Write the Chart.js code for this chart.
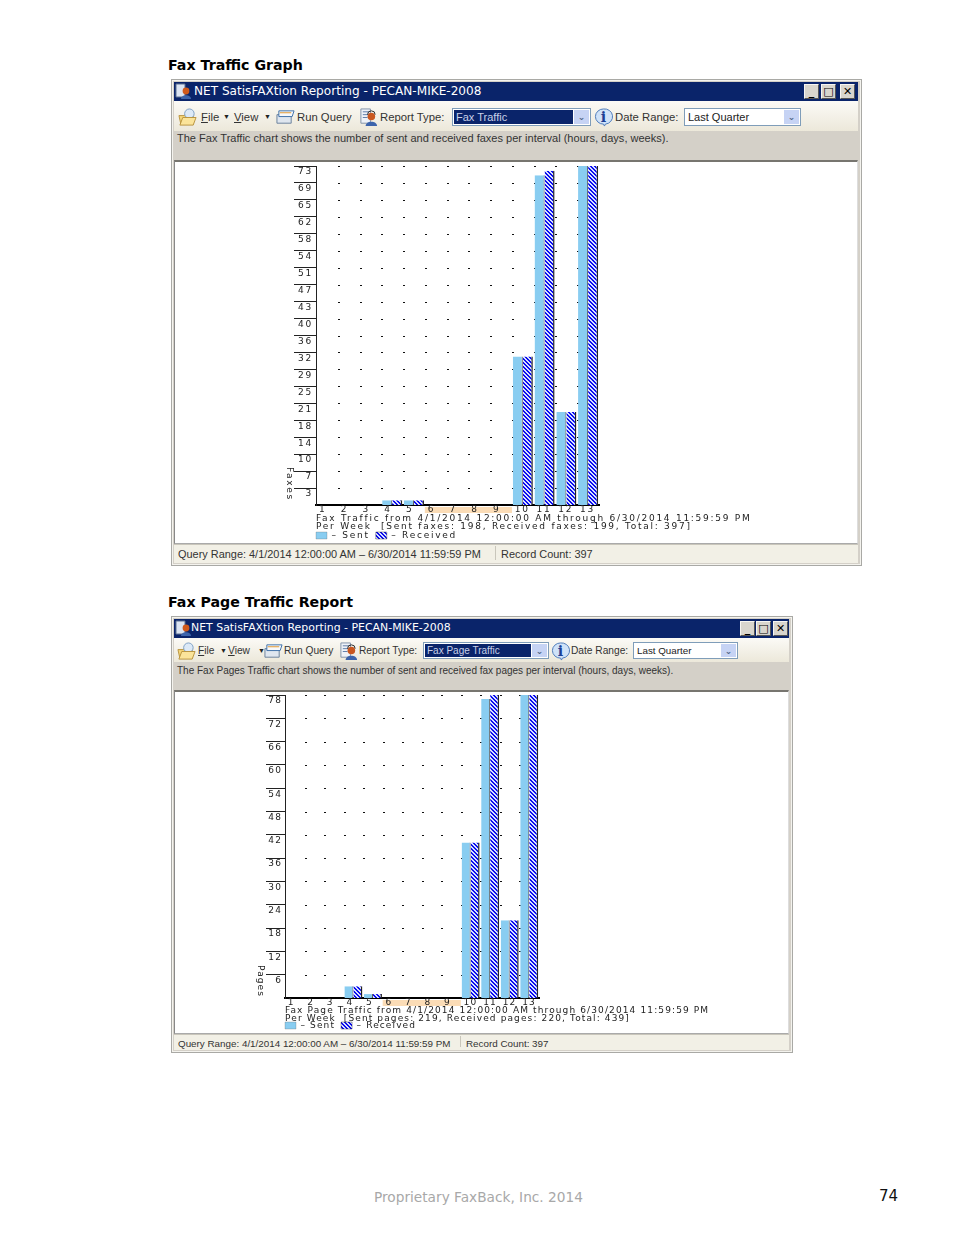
<!DOCTYPE html>
<html>
<head>
<meta charset="utf-8">
<title>Fax Traffic Graph</title>
<script src="https://cdn.jsdelivr.net/npm/chart.js@4"></script>
<style>
  html, body { margin: 0; padding: 0; background: #fff; }
  body { position: relative; width: 954px; height: 1235px; overflow: hidden; font-family: "Liberation Sans", sans-serif; }
  .abs, canvas { position: absolute; }
  .t { position: absolute; white-space: nowrap; line-height: 14px; color: #333; font-size: 11.5px; }
  .heading { position: absolute; left: 168px; font: bold 14.2px "DejaVu Sans", sans-serif; color: #000; white-space: nowrap; }
  .win { position: absolute; box-sizing: border-box; background: #d4d0c8; border: 1px solid #a9a9a5; box-shadow: inset 0 0 0 1px #f4f3ee; }
  .bar { position: absolute; background: #0a246a; }
  .btitle { position: absolute; color: #fff; white-space: nowrap; font-family: "DejaVu Sans", sans-serif; }
  .tool { position: absolute; background: linear-gradient(#fbfaf6, #ece8da); }
  .panel { position: absolute; background: #fff; border-top: 2px solid #77756f; border-left: 1px solid #888; border-right: 1px solid #ddd; border-bottom: 1px solid #aaa; box-sizing: border-box; }
  .status { position: absolute; background: #f2f0e6; border-top: 1px solid #c9c6bb; box-sizing: border-box; }
  .wbtn { position: absolute; background: #d8d5cd; border: 1px solid #f6f5f1; border-right-color: #555; border-bottom-color: #555; box-sizing: border-box; color: #000; font: bold 11px/13px "DejaVu Sans", sans-serif; text-align: center; }
  .sel { position: absolute; background: #fff; border: 1px solid #7f9db9; box-sizing: border-box; }
  .sel .cur { position: absolute; left: 1px; top: 1px; bottom: 1px; background: #0a246a; color: #c8d0e8; line-height: 14px; padding-left: 2px; }
  .sel .val { position: absolute; left: 3px; top: 1px; line-height: 14px; color: #222; }
  .sel .drop { position: absolute; top: 1px; bottom: 1px; right: 1px; width: 15px; background: #c6d3f4; color: #4d6185; font: bold 9px/14px "DejaVu Sans", sans-serif; text-align: center; }
  #foot { position: absolute; left: 374px; top: 1189px; font: 13.7px "DejaVu Sans", sans-serif; color: #a8a8a8; white-space: nowrap; }
  #pageno { position: absolute; left: 879px; top: 1187px; font: 15px "DejaVu Sans", sans-serif; color: #111; }
</style>
</head>
<body>
<svg width="0" height="0" style="position:absolute">
  <symbol id="i-folder" viewBox="0 0 20 20"><path d="M1 8h6l1-2h8v11H3z" fill="#f5d77a" stroke="#b8923c"/><circle cx="12" cy="6" r="5" fill="#dce9f7" stroke="#7d9fc4"/><path d="M2 18l3-8h14l-3 8z" fill="#fbe49a" stroke="#b8923c"/></symbol>
  <symbol id="i-run" viewBox="0 0 20 20"><path d="M1 7h15v9H1z" fill="#dfe6ef" stroke="#68809b"/><path d="M3 3h16l-2 6H3z" fill="#f7f9fc" stroke="#3c6ea8"/><path d="M4 5h12" stroke="#e0962c"/></symbol>
  <symbol id="i-report" viewBox="0 0 20 20"><path d="M2 1h10v15H2z" fill="#eef2f8" stroke="#8090a8"/><path d="M4 4h6M4 7h6M4 10h5" stroke="#5c7aa6"/><circle cx="13" cy="9" r="4" fill="#c9571f"/><path d="M7 19c0-6 12-6 12 0z" fill="#3c64ac"/><path d="M9 7a4 4 0 0 1 8 0" fill="none" stroke="#222"/></symbol>
  <symbol id="i-info" viewBox="0 0 20 20"><path d="M10 1a8.5 8 0 1 0 0 16l1 2 1-2a8.5 8 0 0 0-2-16z" fill="#cfe2f8" stroke="#4a78b8"/><text x="10" y="15" font-family="DejaVu Serif" font-weight="bold" font-size="15" text-anchor="middle" fill="#1c3f94">i</text></symbol>
  <symbol id="i-app" viewBox="0 0 16 16"><path d="M1 1h9v13H1z" fill="#dbe4f2" stroke="#5a6f90"/><circle cx="11" cy="8" r="3.4" fill="#d05a1c"/><path d="M6 16c0-5 10-5 10 0z" fill="#3c64ac"/></symbol>
</svg>

<div class="heading" style="top:57px">Fax Traffic Graph</div>
<div id="win1"></div>
<div class="heading" style="top:594px">Fax Page Traffic Report</div>
<div id="win2"></div>
<div id="foot">Proprietary FaxBack, Inc. 2014</div>
<div id="pageno">74</div>

<script>
// Weeks on the x axis, same for both charts
const weeks = ["1", "2", "3", "4", "5", "6", "7", "8", "9", "10", "11", "12", "13"];
const shadedWeeks = ["6", "7", "8", "9"];

// Fax Traffic Graph
const sentFaxes = [0, 0, 0, 1, 1, 0, 0, 0, 0, 32, 71, 20, 73];
const receivedFaxes = [0, 0, 0, 1, 1, 0, 0, 0, 0, 32, 72, 20, 73];
const faxTicks = [3.65, 7.3, 10.95, 14.6, 18.25, 21.9, 25.55, 29.2, 32.85, 36.5, 40.15, 43.8, 47.45, 51.1, 54.75, 58.4, 62.05, 65.7, 69.35, 73];
const faxTickLabels = ["3", "7", "10", "14", "18", "21", "25", "29", "32", "36", "40", "43", "47", "51", "54", "58", "62", "65", "69", "73"];

// Fax Page Traffic Report
const sentPages = [0, 0, 0, 3, 1, 0, 0, 0, 0, 40, 77, 20, 78];
const receivedPages = [0, 0, 0, 3, 1, 0, 0, 0, 0, 40, 78, 20, 78];
const pageTicks = [6, 12, 18, 24, 30, 36, 42, 48, 54, 60, 66, 72, 78];
const pageTickLabels = ["6", "12", "18", "24", "30", "36", "42", "48", "54", "60", "66", "72", "78"];

// diagonal hatch used for the received bars
function hatch() {
  const c = document.createElement("canvas");
  c.width = 4; c.height = 4;
  const g = c.getContext("2d");
  g.fillStyle = "#0c0cf0";
  g.fillRect(0, 0, 4, 4);
  g.fillStyle = "#d8e2ff";
  for (let i = 0; i < 4; i++) {
    g.fillRect(i, i, 1, 1);
    g.fillRect((i + 1) % 4, i, 1, 1);
  }
  return g.createPattern(c, "repeat");
}

// dots at the grid crossings, orange band under the week labels, caption lines, vertical axis name
const extras = {
  id: "extras",
  beforeUpdate(chart) {
    chart.ctx.letterSpacing = chart.options.plugins.extras.spacing;
  },
  afterLayout(chart) {
    // legend box starts on the axis, not one padding to the right of it
    chart.legend.left -= chart.options.plugins.legend.labels.padding;
  },
  beforeDraw(chart) {
    const ctx = chart.ctx, x = chart.scales.x;
    ctx.letterSpacing = chart.options.plugins.extras.spacing;
    // the band goes first so the week labels stay on top of it
    const band = chart.chartArea.width / weeks.length;
    const first = x.getPixelForValue(weeks.indexOf(shadedWeeks[0])) - band / 2;
    const last = x.getPixelForValue(weeks.indexOf(shadedWeeks[shadedWeeks.length - 1])) + band / 2;
    ctx.save();
    ctx.fillStyle = "#fbdcb6";
    ctx.fillRect(first, chart.chartArea.bottom + 2, last - first, 6);
    ctx.restore();
  },
  beforeDatasetsDraw(chart) {
    const ctx = chart.ctx, x = chart.scales.x, y = chart.scales.y;
    const band = chart.chartArea.width / weeks.length;
    ctx.save();
    ctx.fillStyle = "#111";
    weeks.forEach((w, i) => {
      if (i === weeks.length - 1) return;
      const px = Math.round(x.getPixelForValue(i) + band / 2);
      y.ticks.forEach(t => ctx.fillRect(px, Math.round(y.getPixelForValue(t.value)), 2, 1));
    });
    ctx.restore();
  },
  afterDraw(chart) {
    const o = chart.options.plugins.extras, ctx = chart.ctx, area = chart.chartArea;
    ctx.save();
    ctx.font = '9px "DejaVu Sans"';
    ctx.fillStyle = "#222";
    ctx.textAlign = "left";
    ctx.textBaseline = "middle";
    ctx.fillText(o.line1, area.left, area.bottom + o.lineY[0]);
    ctx.fillText(o.line2, area.left, area.bottom + o.lineY[1]);
    ctx.translate(area.left - o.nameGap, area.bottom - o.nameUp);
    ctx.rotate(Math.PI / 2);
    ctx.textBaseline = "alphabetic";
    ctx.fillText(o.name, 0, 0);
    ctx.restore();
  }
};

function drawChart(id, cfg) {
  const font = { family: "DejaVu Sans", size: 9 };
  new Chart(document.getElementById(id), {
    type: "bar",
    plugins: [extras],
    data: {
      labels: weeks,
      datasets: [
        { label: "Sent", data: cfg.sent, backgroundColor: "#89cdf1", borderColor: "#555", borderWidth: { right: 1 } },
        { label: "Received", data: cfg.received, backgroundColor: hatch(), borderColor: "#222", borderWidth: { right: 1.5 } }
      ]
    },
    options: {
      responsive: false,
      animation: false,
      devicePixelRatio: 1,
      categoryPercentage: 0.92,
      barPercentage: 1,
      layout: { padding: cfg.padding },
      scales: {
        x: {
          grid: { display: false, drawTicks: false, tickLength: 0 },
          border: { color: "#000", width: 2 },
          afterFit: s => { s.height = cfg.xHeight; },
          ticks: { font: font, color: "#222", padding: -1, maxRotation: 0, autoSkip: false, align: "start", labelOffset: cfg.xLabelOffset }
        },
        y: {
          min: 0,
          max: cfg.ticks[cfg.ticks.length - 1],
          afterBuildTicks: s => { s.ticks = cfg.ticks.map(v => ({ value: v })); },
          afterFit: s => { s.width = cfg.yWidth; },
          grid: { drawOnChartArea: false, drawTicks: true, tickLength: cfg.tickLength, tickColor: "#222" },
          border: { color: "#222", width: 1 },
          ticks: {
            font: font,
            color: "#222",
            autoSkip: false,
            padding: 3 - cfg.tickLength,
            labelOffset: 6,
            callback: (v, i) => cfg.tickLabels[i]
          }
        }
      },
      plugins: {
        title: { display: false },
        tooltip: { enabled: false },
        extras: { spacing: cfg.spacing, name: cfg.name, nameGap: cfg.nameGap, nameUp: cfg.nameUp, line1: cfg.line1, line2: cfg.line2, lineY: cfg.lineY },
        legend: {
          position: "bottom",
          align: "start",
          fullSize: false,
          labels: {
            boxWidth: 11,
            boxHeight: 7,
            padding: 6,
            font: font,
            color: "#222",
            generateLabels: c => Chart.defaults.plugins.legend.labels.generateLabels(c).map(l => Object.assign(l, { text: "– " + l.text }))
          }
        }
      }
    }
  });
}

// window frame around a chart, all plain html
function buildWindow(host, w) {
  const icon = (name, x, y, s) => `<svg class="abs" style="left:${x}px;top:${y}px;width:${s}px;height:${s}px"><use href="#${name}"/></svg>`;
  const text = (s, x, y, extra) => `<div class="t" style="left:${x}px;top:${y}px;${extra || ""}">${s}</div>`;
  const arrow = (x, y) => `<div class="t" style="left:${x}px;top:${y}px;font-size:7px;color:#222">▼</div>`;
  const sel = (x, y, wd, h, label, active) => `<div class="sel" style="left:${x}px;top:${y}px;width:${wd}px;height:${h}px;font-size:${active ? w.curFs : w.selFs}px">` +
    (active ? `<div class="cur" style="right:17px">${label}</div>` : `<div class="val">${label}</div>`) +
    `<div class="drop">⌄</div></div>`;
  let h = `<div class="win" style="left:${w.x}px;top:${w.y}px;width:${w.w}px;height:${w.h}px"></div>`;
  h += `<div class="bar" style="left:${w.x + 3}px;top:${w.y + 3}px;width:${w.w - 7}px;height:19px"></div>`;
  h += icon("i-app", w.x + 4, w.y + 4, 16);
  h += `<div class="btitle" style="left:${w.titleX}px;top:${w.y + 5}px;font-size:${w.titleSize}px;line-height:14px">NET SatisFAXtion Reporting - PECAN-MIKE-2008</div>`;
  w.btns.forEach((b, i) => {
    h += `<div class="wbtn" style="left:${b}px;top:${w.y + 5}px;width:15px;height:15px">${["_", "□", "✕"][i]}</div>`;
  });
  h += `<div class="tool" style="left:${w.x + 3}px;top:${w.y + 22}px;width:${w.w - 7}px;height:${w.toolH}px"></div>`;
  const ty = w.toolY;
  h += icon("i-folder", w.tool.folder, ty - 2, 19);
  h += text("<u>F</u>ile", w.tool.file, ty, "font-size:" + w.fs + "px");
  h += arrow(w.tool.file + 22, ty);
  h += text("<u>V</u>iew", w.tool.view, ty, "font-size:" + w.fs + "px");
  h += arrow(w.tool.view + 30, ty);
  h += icon("i-run", w.tool.run, ty - 2, 19);
  h += text("Run Query", w.tool.run + w.iconGap, ty, "font-size:" + w.fs + "px");
  h += icon("i-report", w.tool.report, ty - 2, 19);
  h += text("Report Type:", w.tool.report + w.iconGap, ty, "font-size:" + w.fs + "px");
  h += sel(w.sel1[0], ty - 2, w.sel1[1], w.selH, w.reportType, true);
  h += icon("i-info", w.tool.info, ty - 2, 19);
  h += text("Date Range:", w.tool.info + w.iconGap, ty, "font-size:" + w.fs + "px");
  h += sel(w.sel2[0], ty - 2, w.sel2[1], w.selH, "Last Quarter", false);
  h += text(w.desc, w.x + 6, w.descY, "font-size:" + w.descSize + "px");
  h += `<div class="panel" style="left:${w.x + 3}px;top:${w.panelY}px;width:${w.w - 7}px;height:${w.panelH}px"></div>`;
  h += `<div class="status" style="left:${w.x + 3}px;top:${w.statusY}px;width:${w.w - 7}px;height:${w.y + w.h - w.statusY - 3}px"></div>`;
  h += text("Query Range: 4/1/2014 12:00:00 AM – 6/30/2014 11:59:59 PM", w.x + 7, w.statusY + 3, "font-size:" + w.statusSize + "px");
  h += `<div class="abs" style="left:${w.sepX}px;top:${w.statusY + 2}px;width:1px;height:${w.y + w.h - w.statusY - 8}px;background:#c9c6bb"></div>`;
  h += text("Record Count: 397", w.sepX + 6, w.statusY + 3, "font-size:" + w.statusSize + "px");
  h += `<canvas id="${w.canvas}" class="abs" width="${w.w - 9}" height="${w.canvasH}" style="left:${w.x + 4}px;top:${w.panelY + 1}px"></canvas>`;
  host.innerHTML = h;
}

buildWindow(document.getElementById("win1"), {
  x: 171, y: 79, w: 691, h: 487, canvas: "faxChart",
  titleX: 194, titleSize: 12.1,
  btns: [804, 821, 840], toolH: 30, toolY: 110, fs: 11.3, selH: 18, curFs: 11, selFs: 11, iconGap: 21,
  tool: { folder: 178, file: 201, view: 234, run: 276, report: 359, info: 594 },
  sel1: [452, 139], sel2: [684, 117], reportType: "Fax Traffic",
  desc: "The Fax Traffic chart shows the number of sent and received faxes per interval (hours, days, weeks).",
  descY: 131, descSize: 11.04,
  panelY: 160, panelH: 384, statusY: 544, statusSize: 10.93, sepX: 495, canvasH: 385
});
buildWindow(document.getElementById("win2"), {
  x: 171, y: 616, w: 622, h: 437, canvas: "pageChart",
  titleX: 191, titleSize: 10.93,
  btns: [740, 756, 773], toolH: 24, toolY: 644, fs: 10.2, selH: 17, curFs: 10, selFs: 9.8, iconGap: 20,
  tool: { folder: 177, file: 198, view: 228, run: 264, report: 339, info: 551 },
  sel1: [423, 126], sel2: [633, 105], reportType: "Fax Page Traffic",
  desc: "The Fax Pages Traffic chart shows the number of sent and received fax pages per interval (hours, days, weeks).",
  descY: 664, descSize: 10,
  panelY: 690, panelH: 344, statusY: 1034, statusSize: 9.83, sepX: 460, canvasH: 345
});

drawChart("faxChart", {
  sent: sentFaxes, received: receivedFaxes, ticks: faxTicks, tickLabels: faxTickLabels,
  line1: "Fax Traffic from 4/1/2014 12:00:00 AM through 6/30/2014 11:59:59 PM",
  line2: "Per Week  [Sent faxes: 198, Received faxes: 199, Total: 397]",
  lineY: [14, 22], xLabelOffset: -8,
  name: "Faxes", nameGap: 29, nameUp: 38, spacing: "1.74px",
  padding: { top: 5, right: 258, bottom: -4, left: 0 },
  yWidth: 141, xHeight: 20, tickLength: 22
});
drawChart("pageChart", {
  sent: sentPages, received: receivedPages, ticks: pageTicks, tickLabels: pageTickLabels,
  line1: "Fax Page Traffic from 4/1/2014 12:00:00 AM through 6/30/2014 11:59:59 PM",
  line2: "Per Week  [Sent pages: 219, Received pages: 220, Total: 439]",
  lineY: [13, 21], xLabelOffset: -7,
  name: "Pages", nameGap: 27, nameUp: 33, spacing: "1.12px",
  padding: { top: 4, right: 249, bottom: -4, left: 0 },
  yWidth: 110, xHeight: 17, tickLength: 19
});
</script>
</body>
</html>
